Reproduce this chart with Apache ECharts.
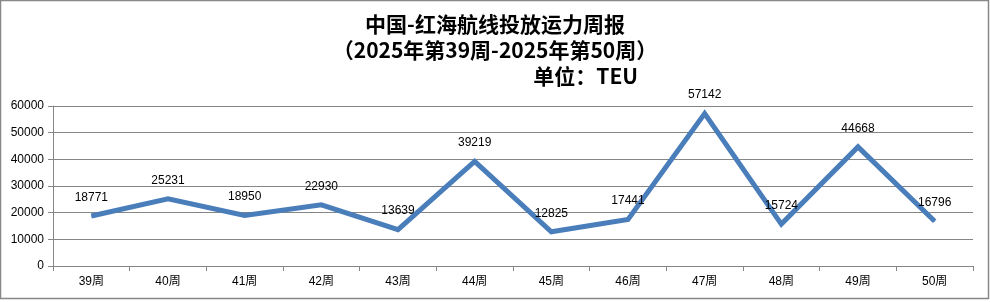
<!DOCTYPE html>
<html><head><meta charset="utf-8">
<script src="https://cdn.jsdelivr.net/npm/echarts@6/dist/echarts.min.js"></script>
<style>html,body{margin:0;padding:0;background:#fff}#c{width:990px;height:302px}</style>
</head><body><div id="c"></div>
<script>
const categories = ['39周','40周','41周','42周','43周','44周','45周','46周','47周','48周','49周','50周'];
const capacity = [18771, 25231, 18950, 22930, 13639, 39219, 12825, 17441, 57142, 15724, 44668, 16796];
const titleLine1 = '中国-红海航线投放运力周报';
const titleLine2 = '（2025年第39周-2025年第50周）';
const unitText = '单位：TEU';

const chart = echarts.init(document.getElementById('c'), null, {renderer:'canvas'});
const font = '"Liberation Sans","Noto Sans CJK SC",sans-serif';
const tfont = '"Noto Sans CJK SC",sans-serif';
chart.setOption({
  animation:false,
  backgroundColor:'#fff',
  title:[
    {text:titleLine1, left:'center', top:9, textStyle:{fontFamily:tfont, fontSize:21, fontWeight:'bold', color:'#000'}},
    {text:titleLine2, left:'center', top:35, textStyle:{fontFamily:tfont, fontSize:21, fontWeight:'bold', color:'#000'}},
    {text:unitText, right:347, top:61, textStyle:{fontFamily:tfont, fontSize:21, fontWeight:'bold', color:'#000'}}
  ],
  graphic:[{type:'rect', shape:{x:0.5,y:0.5,width:988,height:298}, style:{fill:'none', stroke:'#878787', lineWidth:1.5}, silent:true}],
  grid:{left:53, right:17, top:106, bottom:36, containLabel:false},
  xAxis:{type:'category', data:categories, boundaryGap:true,
    axisLine:{lineStyle:{color:'#868686', width:1}},
    axisTick:{show:true, length:5, lineStyle:{color:'#868686'}},
    axisLabel:{fontFamily:font, fontSize:12, color:'#000', margin:10}},
  yAxis:{type:'value', min:0, max:60000, interval:10000,
    axisLine:{show:true, lineStyle:{color:'#868686', width:1}},
    axisTick:{show:true, length:5, lineStyle:{color:'#868686'}},
    axisLabel:{fontFamily:font, fontSize:12, color:'#000', margin:9, formatter:function(v){return String(v);}},
    splitLine:{lineStyle:{color:'#868686', width:1}}},
  series:[{type:'line', data:capacity, symbol:'circle', symbolSize:1, showSymbol:true,
    itemStyle:{color:'#4a7ebb'},
    lineStyle:{color:'#4a7ebb', width:5, join:'miter'},
    labelLayout:{hideOverlap:false},
    label:{show:true, position:'top', distance:12, fontFamily:font, fontSize:12, color:'#000'}}]
});
</script></body></html>
